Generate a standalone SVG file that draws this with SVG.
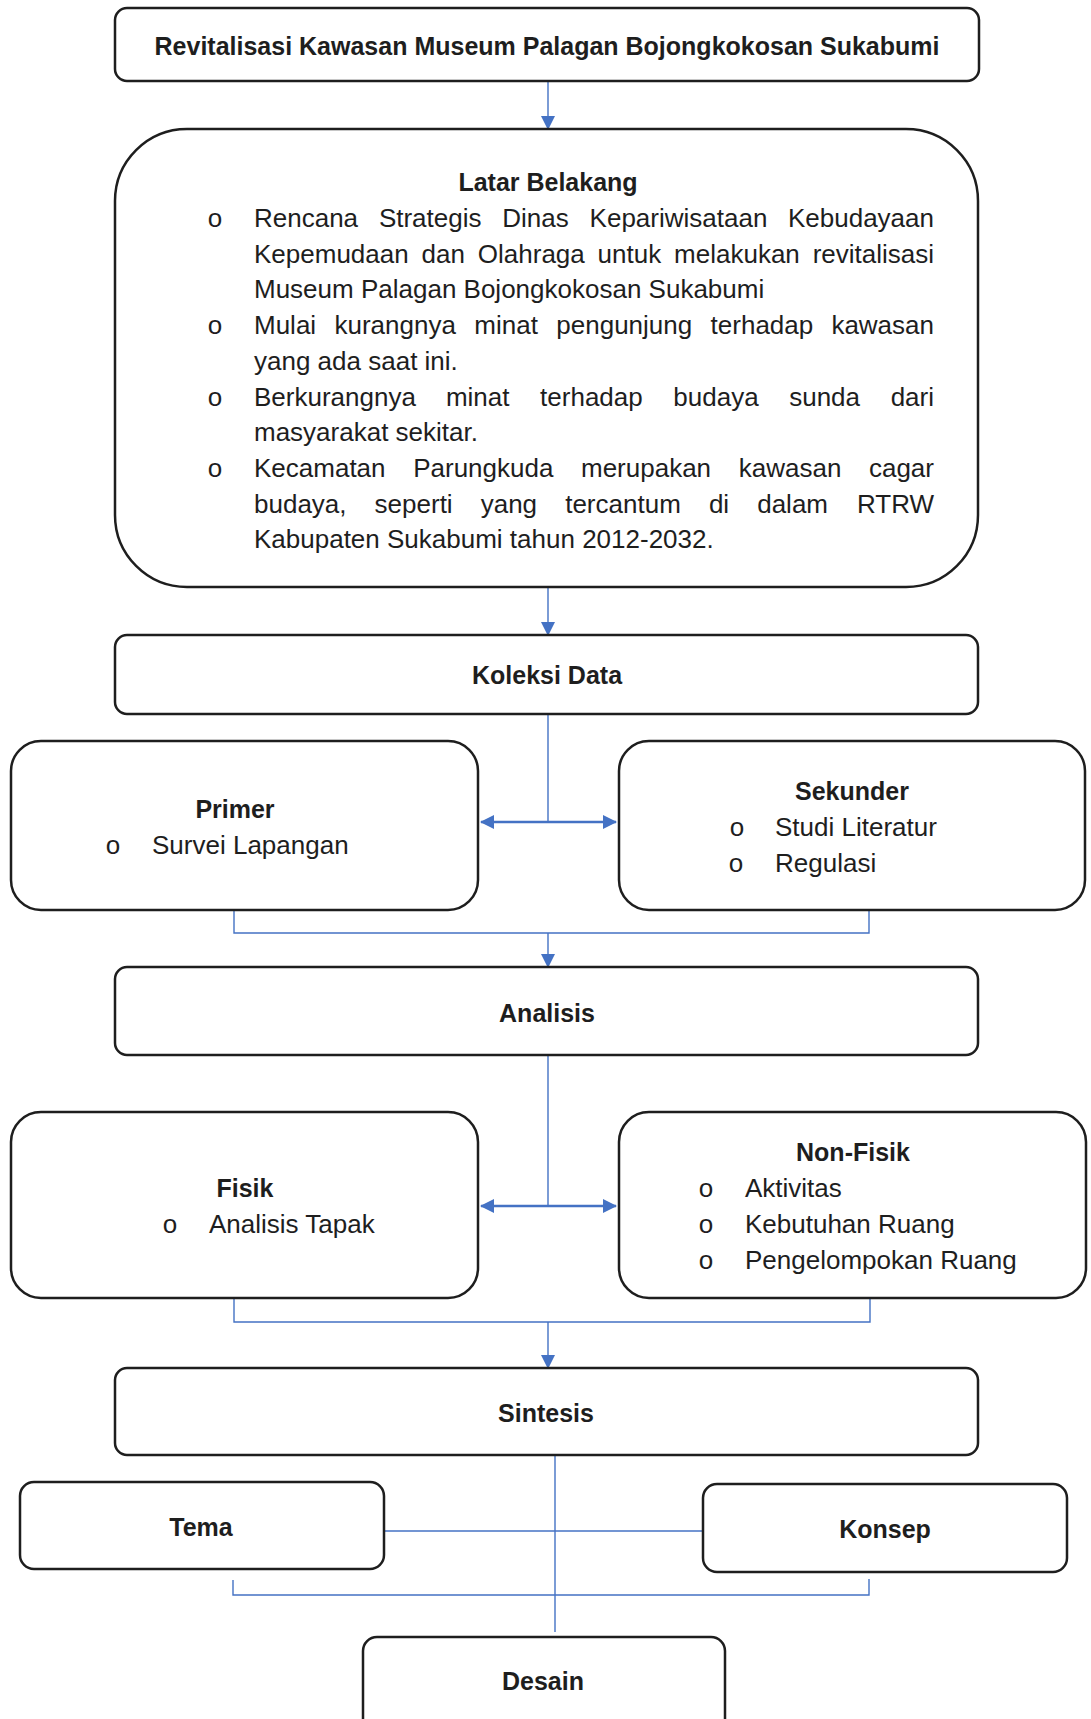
<svg xmlns="http://www.w3.org/2000/svg" width="1091" height="1719" viewBox="0 0 1091 1719">
<defs>
<style>
.box{fill:#fff;stroke:#1e1e1e;stroke-width:2.5}
.t{font-family:"Liberation Sans",Arial,sans-serif;font-size:26px;fill:#1e1e1e}
.b{font-family:"Liberation Sans",Arial,sans-serif;font-size:25px;font-weight:bold;fill:#1e1e1e}
.c{text-anchor:middle}
.e{text-anchor:end}
.ln{fill:none;stroke:#4472c4;stroke-width:1.4}
.ln2{fill:none;stroke:#4472c4;stroke-width:2.5}
</style>
<marker id="ah" markerUnits="userSpaceOnUse" markerWidth="14" markerHeight="14" refX="13" refY="7" orient="auto-start-reverse" viewBox="0 0 14 14">
<path d="M0,0 L14,7 L0,14 z" fill="#4472c4"/>
</marker>
</defs>
<rect width="1091" height="1719" fill="#fff"/>

<g id="connectors">
<line class="ln" x1="548" y1="81" x2="548" y2="129" marker-end="url(#ah)"/>
<line class="ln" x1="548" y1="587" x2="548" y2="635" marker-end="url(#ah)"/>
<line class="ln" x1="548" y1="714" x2="548" y2="822"/>
<line class="ln2" x1="481" y1="822" x2="616" y2="822" marker-start="url(#ah)" marker-end="url(#ah)"/>
<path class="ln" d="M234 910 V933 H869 V910"/>
<line class="ln" x1="548" y1="933" x2="548" y2="967" marker-end="url(#ah)"/>
<line class="ln" x1="548" y1="1055" x2="548" y2="1206"/>
<line class="ln2" x1="481" y1="1206" x2="616" y2="1206" marker-start="url(#ah)" marker-end="url(#ah)"/>
<path class="ln" d="M234 1298 V1322 H870 V1298"/>
<line class="ln" x1="548" y1="1322" x2="548" y2="1368" marker-end="url(#ah)"/>
<line class="ln" x1="555" y1="1455" x2="555" y2="1632"/>
<line class="ln" x1="384" y1="1531" x2="703" y2="1531"/>
<path class="ln" d="M233 1580 V1595 H869 V1579"/>
</g>

<g id="judul">
<rect class="box" x="115" y="8" width="864" height="73" rx="12"/>
<text class="b c" x="547" y="55">Revitalisasi Kawasan Museum Palagan Bojongkokosan Sukabumi</text>
</g>

<g id="latar-belakang">
<rect class="box" x="115" y="129" width="863" height="458" rx="72"/>
<text class="b c" x="548" y="191">Latar Belakang</text>
<g class="t">
<text class="c" x="215" y="227">o</text>
<text x="254" y="227">Rencana</text>
<text x="378.9" y="227">Strategis</text>
<text x="502.3" y="227">Dinas</text>
<text x="589.6" y="227">Kepariwisataan</text>
<text class="e" x="934" y="227">Kebudayaan</text>

<text x="254" y="262.7">Kepemudaan</text>
<text x="421.5" y="262.7">dan</text>
<text x="477.8" y="262.7">Olahraga</text>
<text x="597.6" y="262.7">untuk</text>
<text x="674.1" y="262.7">melakukan</text>
<text class="e" x="934" y="262.7">revitalisasi</text>

<text x="254" y="298.4">Museum Palagan Bojongkokosan Sukabumi</text>

<text class="c" x="215" y="334.1">o</text>
<text x="254" y="334.1">Mulai</text>
<text x="334.5" y="334.1">kurangnya</text>
<text x="474.3" y="334.1">minat</text>
<text x="556.3" y="334.1">pengunjung</text>
<text x="710.6" y="334.1">terhadap</text>
<text class="e" x="934" y="334.1">kawasan</text>

<text x="254" y="369.8">yang ada saat ini.</text>

<text class="c" x="215" y="405.5">o</text>
<text x="254" y="405.5">Berkurangnya</text>
<text x="445.9" y="405.5">minat</text>
<text x="540.1" y="405.5">terhadap</text>
<text x="673.3" y="405.5">budaya</text>
<text x="789.2" y="405.5">sunda</text>
<text class="e" x="934" y="405.5">dari</text>

<text x="254" y="441.2">masyarakat sekitar.</text>

<text class="c" x="215" y="476.9">o</text>
<text x="254" y="476.9">Kecamatan</text>
<text x="413.2" y="476.9">Parungkuda</text>
<text x="581" y="476.9">merupakan</text>
<text x="738.8" y="476.9">kawasan</text>
<text class="e" x="934" y="476.9">cagar</text>

<text x="254" y="512.6">budaya,</text>
<text x="374.6" y="512.6">seperti</text>
<text x="480.7" y="512.6">yang</text>
<text x="565.2" y="512.6">tercantum</text>
<text x="708.9" y="512.6">di</text>
<text x="757.2" y="512.6">dalam</text>
<text class="e" x="934" y="512.6">RTRW</text>

<text x="254" y="548.3">Kabupaten Sukabumi tahun 2012-2032.</text>
</g>
</g>

<g id="koleksi-data">
<rect class="box" x="115" y="635" width="863" height="79" rx="12"/>
<text class="b c" x="547" y="684">Koleksi Data</text>
</g>

<g id="primer">
<rect class="box" x="11" y="741" width="467" height="169" rx="30"/>
<text class="b c" x="235" y="818">Primer</text>
<text class="t c" x="113" y="854">o</text>
<text class="t" x="152" y="854">Survei Lapangan</text>
</g>

<g id="sekunder">
<rect class="box" x="619" y="741" width="466" height="169" rx="30"/>
<text class="b c" x="852" y="800">Sekunder</text>
<text class="t c" x="737" y="836">o</text>
<text class="t" x="775" y="836">Studi Literatur</text>
<text class="t c" x="736" y="872">o</text>
<text class="t" x="775" y="872">Regulasi</text>
</g>

<g id="analisis">
<rect class="box" x="115" y="967" width="863" height="88" rx="12"/>
<text class="b c" x="547" y="1022">Analisis</text>
</g>

<g id="fisik">
<rect class="box" x="11" y="1112" width="467" height="186" rx="30"/>
<text class="b c" x="245" y="1197">Fisik</text>
<text class="t c" x="170" y="1233">o</text>
<text class="t" x="209" y="1233">Analisis Tapak</text>
</g>

<g id="non-fisik">
<rect class="box" x="619" y="1112" width="467" height="186" rx="30"/>
<text class="b c" x="853" y="1161">Non-Fisik</text>
<text class="t c" x="706" y="1197">o</text>
<text class="t" x="745" y="1197">Aktivitas</text>
<text class="t c" x="706" y="1233">o</text>
<text class="t" x="745" y="1233">Kebutuhan Ruang</text>
<text class="t c" x="706" y="1269">o</text>
<text class="t" x="745" y="1269">Pengelompokan Ruang</text>
</g>

<g id="sintesis">
<rect class="box" x="115" y="1368" width="863" height="87" rx="12"/>
<text class="b c" x="546" y="1422">Sintesis</text>
</g>

<g id="tema">
<rect class="box" x="20" y="1482" width="364" height="87" rx="14"/>
<text class="b c" x="201" y="1536">Tema</text>
</g>

<g id="konsep">
<rect class="box" x="703" y="1484" width="364" height="88" rx="14"/>
<text class="b c" x="885" y="1538">Konsep</text>
</g>

<g id="desain">
<rect class="box" x="363" y="1637" width="362" height="100" rx="14"/>
<text class="b c" x="543" y="1690">Desain</text>
</g>
</svg>
